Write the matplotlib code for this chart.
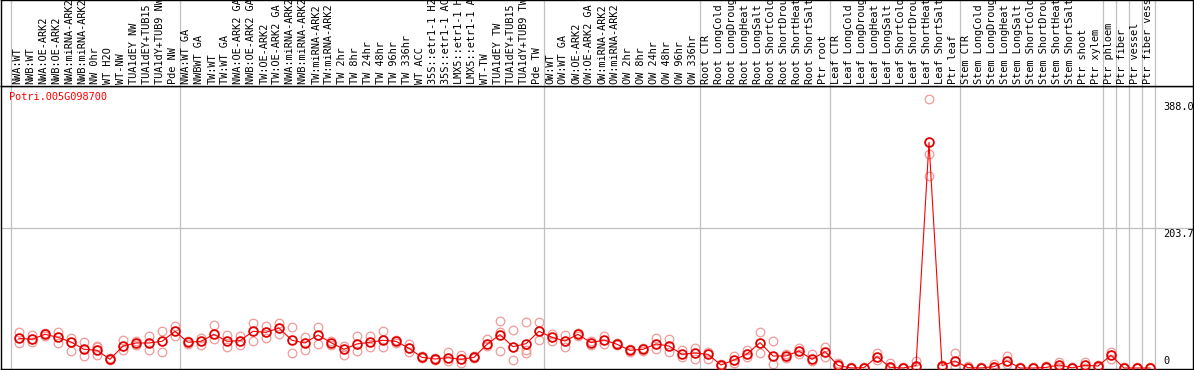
import numpy as np
import matplotlib
matplotlib.use('Agg')
import matplotlib.pyplot as plt

# ----- data -----
gene = "Potri.005G098700"

samples = ["NWA:WT", "NWB:WT", "NWA:OE-ARK2", "NWB:OE-ARK2", "NWA:miRNA-ARK2", "NWB:miRNA-ARK2",
           "NW 0hr", "WT H2O", "WT-NW", "TUA1dEY NW", "TUA1dEY+TUB15 NW", "TUA1dY+TUB9 NW", "Pde NW",
           "NWA:WT GA", "NWBWT GA", "TW:WT", "TW:WT GA", "NWA:OE-ARK2 GA", "NWB:OE-ARK2 GA",
           "TW:OE-ARK2", "TW:OE-ARK2 GA", "NWA:miRNA-ARK2 GA", "NWB:miRNA-ARK2 GA", "TW:miRNA-ARK2",
           "TW:miRNA-ARK2 GA", "TW 2hr", "TW 8hr", "TW 24hr", "TW 48hr", "TW 96hr", "TW 336hr",
           "WT ACC", "35S::etr1-1 H2O", "35S::etr1-1 ACC", "LMX5::etr1-1 H2O", "LMX5::etr1-1 ACC",
           "WT-TW", "TUA1dEY TW", "TUA1dEY+TUB15 TW", "TUA1dY+TUB9 TW", "Pde TW",
           "OW:WT", "OW:WT GA", "OW:OE-ARK2", "OW:OE-ARK2 GA", "OW:miRNA-ARK2", "OW:miRNA-ARK2 GA",
           "OW 2hr", "OW 8hr", "OW 24hr", "OW 48hr", "OW 96hr", "OW 336hr",
           "Root CTR", "Root LongCold", "Root LongDrought", "Root LongHeat", "Root LongSalt",
           "Root ShortCold", "Root ShortDrought", "Root ShortHeat", "Root ShortSalt", "Ptr root",
           "Leaf CTR", "Leaf LongCold", "Leaf LongDrought", "Leaf LongHeat", "Leaf LongSalt",
           "Leaf ShortCold", "Leaf ShortDrought", "Leaf ShortHeat", "Leaf ShortSalt", "Ptr leaf",
           "Stem CTR", "Stem LongCold", "Stem LongDrought", "Stem LongHeat", "Stem LongSalt",
           "Stem ShortCold", "Stem ShortDrought", "Stem ShortHeat", "Stem ShortSalt", "Ptr shoot",
           "Ptr xylem", "Ptr phloem", "Ptr fiber", "Ptr vessel", "Ptr fiber vessel"]

means = [43.2, 41.7, 49.0, 44.6, 37.8, 27.2, 25.7, 12.6, 32.0, 36.4, 36.4, 38.8, 53.4,
         37.4, 38.8, 49.0, 38.8, 39.8, 53.4, 51.9, 58.2, 40.3, 36.4, 48.0, 36.9, 27.2, 35.0,
         37.4, 40.3, 38.8, 28.6, 15.5, 13.1, 15.0, 12.6, 15.5, 34.5, 48.5, 31.0, 35.4, 53.4,
         44.6, 39.3, 49.0, 36.9, 40.7, 34.5, 25.7, 27.2, 35.0, 32.0, 19.9, 21.8,
         19.9, 4.4, 11.6, 20.4, 36.9, 17.5, 17.5, 24.7, 12.6, 23.8,
         3.8, 0.0, 0.5, 16.5, 1.0, 0.0, 3.4, 328.4, 3.4, 10.2,
         0.5, 0.0, 2.0, 10.2, 0.0, 0.0, 0.8, 4.4, 0.3, 3.9, 2.9,
         18.4, 0.0, 0.0, 0.0]

rep_hi = [52, 47.5, 50.5, 53, 44, 37.4, 32, 14, 40.7, 39, 46.5, 53.4, 61.6,
          39.5, 44, 62.6, 47.5, 47, 65.5, 61, 66, 59, 45.6, 59.7, 39, 32.5, 47,
          47, 53.4, 41, 34.5, 17, 15, 23.3, 19, 17, 41.7, 68, 54.8, 66.5, 66.5,
          50, 48.5, 50.5, 39, 47, 36, 27, 29, 44, 42.2, 26.2, 28.6,
          23.8, 5.5, 18, 26.2, 52, 38.8, 20.5, 29, 19.9, 31,
          6.8, 1, 1.5, 21.4, 6.8, 1, 10.2, 392, 5, 21.4,
          2.5, 1, 5.8, 17.5, 1, 1, 2.5, 9.2, 1, 9.2, 4,
          23.8, 1, 1, 1]

rep_lo = [36.9, 38, 46.5, 36, 24.2, 17.5, 18.4, 11, 26, 33.5, 26, 22.8, 46.5,
          35, 33.5, 42.7, 31, 33, 39.8, 44, 50, 21.4, 26, 35, 33.5, 18.4, 25.2,
          31, 30, 36, 23.8, 14, 11, 10.2, 7.8, 14, 32.5, 24.2, 11.2, 21.4, 40.3,
          39, 30.6, 46.5, 33.5, 35, 33, 24, 25, 27, 22.8, 16.5, 12.6,
          13, 3.5, 6.8, 15.5, 21.4, 6.3, 14.5, 20, 10.5, 15.5,
          2.5, 0, 0, 12, 0, 0, 1, 280, 2, 3,
          0, 0, 0, 5.5, 0, 0, 0, 2, 0, 0, 2,
          12.6, 0, 0, 0]

# third replicate, only where it shows apart from the mean
rep_mid = {6: 30.0, 37: 52.0, 39: 26.2, 70: 312.0}

# group separators (between samples)
separators = [-0.62, 12.38, 40.38, 52.38, 62.38, 72.38, 83.38, 84.38, 85.38, 86.38, 87.38]

# ----- figure -----
W, H = 1194, 370
mono = "DejaVu Sans Mono"
fsz = 7.4
grey = "#c0c0c0"
fig = plt.figure(figsize=(W / 100, H / 100), dpi=100)

x = np.arange(len(samples))
xlo = -18 / 13.0
xhi = xlo + 1192 / 13.0
ylo = -1.455
yhi = ylo + 283 * 1.455

# main plot area
ax = fig.add_axes([1 / W, 1 / H, 1192 / W, 283 / H])
ax.set_xlim(xlo, xhi)
ax.set_ylim(ylo, yhi)
ax.set_xticks([])
ax.set_yticks([])
for s in ax.spines.values():
    s.set_color("black")
    s.set_linewidth(1.0)

for sx in separators:
    ax.axvline(sx, color=grey, lw=0.9, zorder=1)
ax.axhline(203.7, color=grey, lw=0.9, zorder=1)

# replicates
rep_col = "#f09a9a"
ax.plot(x, rep_hi, "o", ms=6.2, mfc="none", mec=rep_col, mew=0.9, zorder=2)
ax.plot(x, rep_lo, "o", ms=6.2, mfc="none", mec=rep_col, mew=0.9, zorder=2)
ax.plot(list(rep_mid.keys()), list(rep_mid.values()), "o", ms=6.2, mfc="none",
        mec=rep_col, mew=0.9, zorder=2)

# mean line and points
ax.plot(x, means, "-", color="red", lw=0.8, zorder=3)
ax.plot(x, means, "o", ms=6.3, mfc="none", mec="#e00000", mew=1.3, zorder=4)

# right side labels
xt = (1163 - 19) / 13.0
ax.text(xt, 386.8, "388.0", family=mono, fontsize=fsz, va="top", ha="left", clip_on=True)
ax.text(xt, 202.2, "203.7", family=mono, fontsize=fsz, va="top", ha="left", clip_on=True)
ax.text(xt, 2.6, "0", family=mono, fontsize=fsz, va="bottom", ha="left", clip_on=True)

fig.text(9 / W, 1 - 97 / H, gene, color="red", family=mono, fontsize=fsz, va="center", ha="left")

# top label strip
lab = fig.add_axes([1 / W, 284 / H, 1192 / W, 86 / H])
lab.set_xlim(xlo, xhi)
lab.set_ylim(86, 0)
lab.set_xticks([])
lab.set_yticks([])
for s in lab.spines.values():
    s.set_color("black")
    s.set_linewidth(1.0)
for sx in separators:
    lab.axvline(sx, color=grey, lw=0.9, zorder=1)
for i, name in enumerate(samples):
    lab.text(i - 0.12, 84, name, rotation=90, family=mono, fontsize=fsz,
             ha="center", va="bottom", clip_on=True)

fig.savefig("out.png", dpi=100)
